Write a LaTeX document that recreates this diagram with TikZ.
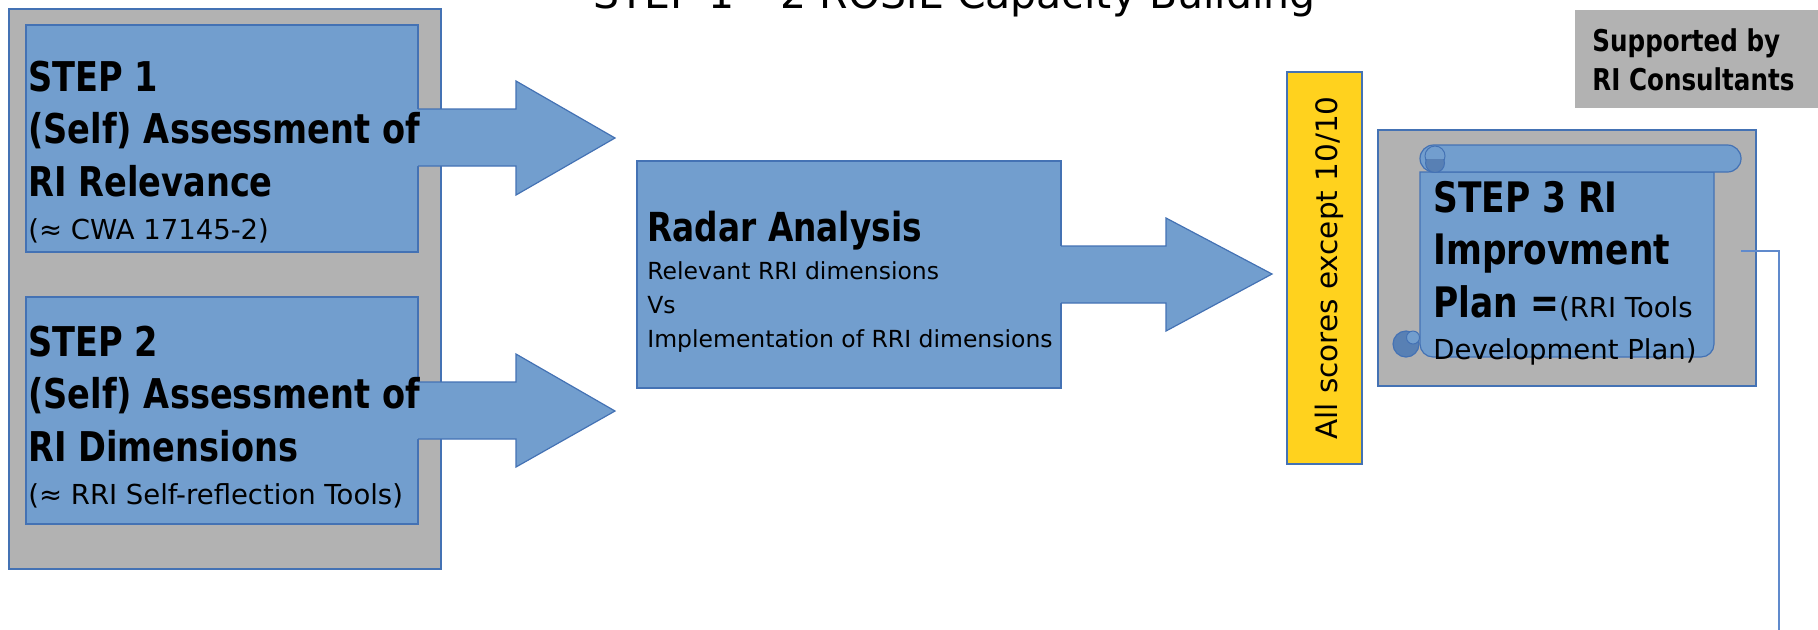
\documentclass[tikz,border=0pt]{standalone}
\usepackage{fontspec}
\setmainfont{DejaVu Sans}
\newfontfamily\bfnt[FakeStretch=0.82]{DejaVu Sans}
\usetikzlibrary{fit}

\definecolor{bfill}{RGB}{114,158,206}
\definecolor{bline}{RGB}{68,114,180}
\definecolor{cline}{RGB}{96,138,204}
\definecolor{gfill}{RGB}{178,178,178}
\definecolor{yfill}{RGB}{255,210,30}
\definecolor{curl}{RGB}{88,128,180}

\tikzset{
  panel/.style={fill=gfill, draw=bline, line width=0.6pt, inner sep=0pt},
  bluebox/.style={fill=bfill, draw=bline, line width=0.6pt, inner sep=0pt},
  edge/.style={draw=bline, line width=0.6pt},
  link/.style={draw=cline, line width=0.6pt},
  bt/.style={anchor=base west, inner sep=0pt, font=\bfnt\bfseries\fontsize{20.5}{24}\selectfont},
  nt/.style={anchor=base west, inner sep=0pt, font=\fontsize{13.75}{16}\selectfont},
}

\begin{document}
\begin{tikzpicture}[x=0.5pt, y=-0.5pt]
\useasboundingbox (0,0) rectangle (1818,629);

% title (cut off at the top)
\node[anchor=base, inner sep=0pt, font=\fontsize{20.5}{24}\selectfont] (title) at (954.5,8) {STEP 1 – 2 ROSiE Capacity Building};

% left panel
\node[panel, fit={(9,9) (441,569)}] (leftpanel) {};
\node[bluebox, fit={(26,25) (418,252)}] (s1) {};
\node[bluebox, fit={(26,297) (418,524)}] (s2) {};

% radar box
\node[bluebox, fit={(637,161) (1061,388)}] (radar) {};

% block arrows
\fill[bfill] (408,109) -- (516,109) -- (516,81) -- (615,138) -- (516,195) -- (516,166) -- (408,166) -- cycle;
\draw[edge] (418,109) -- (516,109) -- (516,81) -- (615,138) -- (516,195) -- (516,166) -- (418,166);
\fill[bfill] (408,382) -- (516,382) -- (516,354) -- (615,411) -- (516,467) -- (516,439) -- (408,439) -- cycle;
\draw[edge] (418,382) -- (516,382) -- (516,354) -- (615,411) -- (516,467) -- (516,439) -- (418,439);
\fill[bfill] (1053,246) -- (1166,246) -- (1166,218) -- (1272,274) -- (1166,331) -- (1166,303) -- (1053,303) -- cycle;
\draw[edge] (1061,246) -- (1166,246) -- (1166,218) -- (1272,274) -- (1166,331) -- (1166,303) -- (1061,303);

% yellow bar
\node[fill=yfill, draw=bline, line width=0.6pt, inner sep=0pt, fit={(1287,72) (1362,464)}] (yellow) {};
\node[anchor=base, rotate=90, inner sep=0pt, font=\fontsize{14.75}{17}\selectfont] (ytext) at (1337,268) {All scores except 10/10};

% supported by
\node[fill=gfill, inner sep=0pt, fit={(1575,10) (1818,108)}] (support) {};
\node[bt, font=\bfnt\bfseries\fontsize{15}{18}\selectfont] (sup1) at (1592,51) {Supported by};
\node[bt, font=\bfnt\bfseries\fontsize{15}{18}\selectfont] (sup2) at (1592,90) {RI Consultants};

% step 3 panel and scroll
\node[panel, fit={(1378,130) (1756,386)}] (rightpanel) {};
\path[bluebox] (1714,172) [rounded corners=6.5pt] -- (1714,357) -- (1420,357) [sharp corners] -- (1420,172) -- cycle;
\path[bluebox, rounded corners=6.75pt] (1420,145) rectangle (1741,172);
% top-left curl
\path[bluebox, line width=0.5pt] (1435,156) circle (5pt);
\begin{scope}
  \clip (1420,159) rectangle (1452,172);
  \path[fill=curl, draw=bline, line width=0.5pt] (1435,163) circle (4.75pt);
\end{scope}
% bottom-left curl
\path[fill=curl, draw=bline, line width=0.6pt] (1406,344) circle (6.5pt);
\begin{scope}
  \clip (1406,330) rectangle (1420,344);
  \path[fill=bfill, draw=bline, line width=0.5pt] (1413,337.5) circle (3.25pt);
\end{scope}
\node[inner sep=0pt, fit={(1392,145) (1741,357)}] (scroll) {};

% connector leaving the scroll
\coordinate (lineend) at (1779,640);
\draw[link] (scroll.east) -| (lineend);

% texts
\node[bt] (s1a) at (28,91) {STEP 1};
\node[bt] (s1b) at (28,143) {(Self) Assessment of};
\node[bt] (s1c) at (28,196) {RI Relevance};
\node[nt] (s1d) at (28,239) {(≈ CWA 17145-2)};

\node[bt] (s2a) at (28,356) {STEP 2};
\node[bt] (s2b) at (28,408) {(Self) Assessment of};
\node[bt] (s2c) at (28,461) {RI Dimensions};
\node[nt] (s2d) at (28,504) {(≈ RRI Self-reflection Tools)};

\node[bt, font=\bfnt\bfseries\fontsize{20}{24}\selectfont] (ra) at (647,241) {Radar Analysis};
\node[nt, font=\fontsize{11.75}{14}\selectfont] (rb) at (647,279) {Relevant RRI dimensions};
\node[nt, font=\fontsize{11.75}{14}\selectfont] (rc) at (647,313) {Vs};
\node[nt, font=\fontsize{11.75}{14}\selectfont] (rd) at (647,347) {Implementation of RRI dimensions};

\node[bt, font=\bfnt\bfseries\fontsize{21}{25}\selectfont] (t3a) at (1433,212) {STEP 3 RI};
\node[bt, font=\bfnt\bfseries\fontsize{21}{25}\selectfont] (t3b) at (1433,264) {Improvment};
\node[anchor=base west, inner sep=0pt] (t3c) at (1433,317) {{\bfnt\bfseries\fontsize{21}{25}\selectfont Plan =}{\fontsize{13.75}{16}\selectfont(RRI Tools}};
\node[nt] (t3d) at (1433,359) {Development Plan)};
\end{tikzpicture}
\end{document}
